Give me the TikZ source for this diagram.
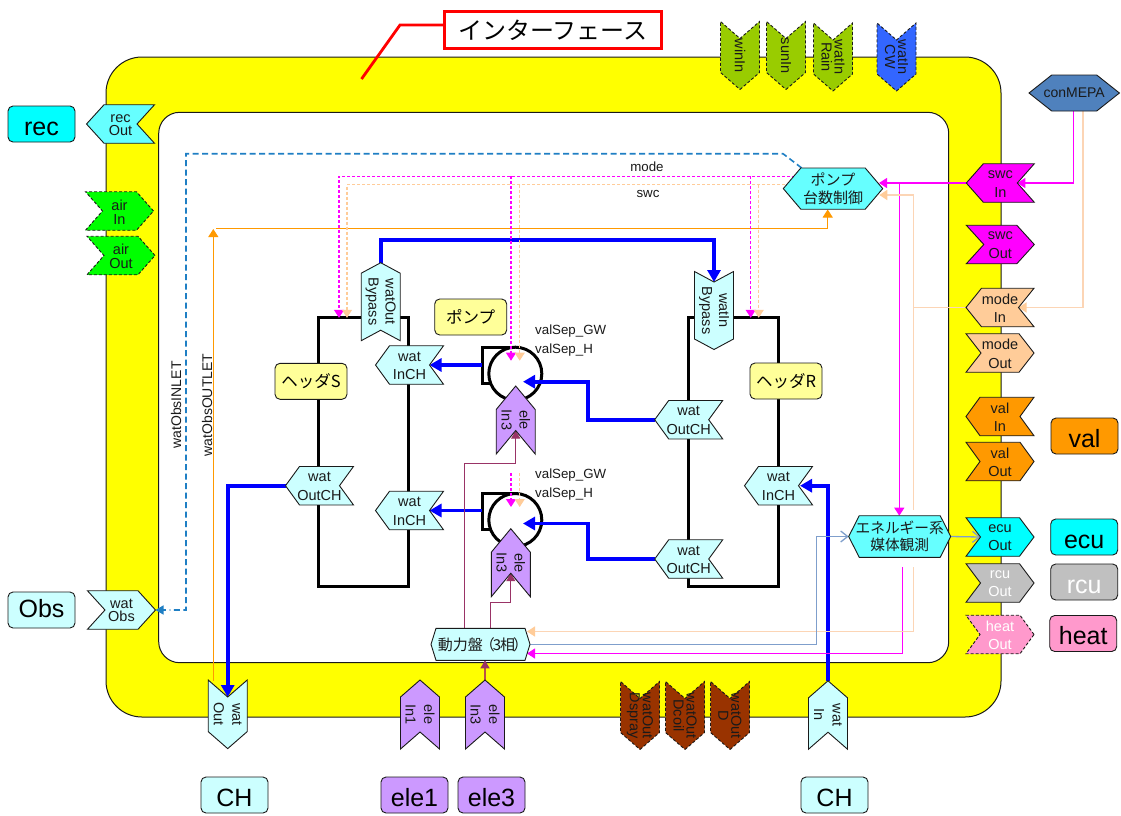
\documentclass[tikz,border=0pt]{standalone}
\usepackage{fontspec}
\setmainfont{Liberation Sans}
\newfontfamily\jp{Noto Sans CJK JP}
\usetikzlibrary{arrows.meta,calc}
\definecolor{pale}{HTML}{CCFFFF}
\definecolor{cyn}{HTML}{66FFFF}
\definecolor{aqua}{HTML}{00FFFF}
\definecolor{purp}{HTML}{CC99FF}
\definecolor{oliv}{HTML}{99CC00}
\definecolor{blu}{HTML}{3366FF}
\definecolor{brn}{HTML}{993300}
\definecolor{orng}{HTML}{FF9900}
\definecolor{pch}{HTML}{FFCC99}
\definecolor{pchl}{HTML}{FCD5B5}
\definecolor{gry}{HTML}{C0C0C0}
\definecolor{pnk}{HTML}{FF99CC}
\definecolor{yel}{HTML}{FFFF99}
\definecolor{stl}{HTML}{4F81BD}
\definecolor{stll}{HTML}{7F9FCC}
\definecolor{dashb}{HTML}{1F7FC4}
\definecolor{plum}{HTML}{993366}
\definecolor{ink}{HTML}{1A1A1A}
\definecolor{mgn}{HTML}{FF00FF}
\definecolor{ylw}{HTML}{FFFF00}
\definecolor{rd}{HTML}{FF0000}
\definecolor{grn}{HTML}{00FF00}
\definecolor{bl}{HTML}{0000FF}
\pgfdeclarelayer{under}
\pgfdeclarelayer{conn}
\pgfsetlayers{under,conn,main}
\tikzset{
  flagp/.style={draw=ink,line width=0.9pt,line join=miter},
  dsh/.style={dash pattern=on 3pt off 2pt},
  box/.style={inner sep=0pt,outer sep=0pt},
  ft/.style={align=center,text=ink,font=\fontsize{14.5}{#1}\selectfont},
  ftw/.style={align=center,text=white,font=\fontsize{14.5}{#1}\selectfont},
  lbl/.style={draw=ink,line width=0.9pt,rounded corners=5pt,minimum width=67pt,minimum height=36pt,inner sep=0pt,text height=22pt,text depth=0pt,font=\fontsize{25}{30}\selectfont},
  jlbl/.style={draw=ink,line width=0.9pt,rounded corners=5pt,fill=yel,minimum width=72pt,minimum height=36pt,inner sep=0pt,font=\jp\fontsize{16.5}{20}\selectfont},
  free/.style={inner sep=0pt,text=ink,font=\fontsize{13.3}{16}\selectfont},
  freev/.style={inner sep=0pt,text=ink,font=\fontsize{14}{16}\selectfont},
  thk/.style={draw=bl,line width=3.6pt,line join=miter,-{Triangle[length=12pt,width=13pt]}},
  tp/.style={-{Triangle[length=8pt,width=10pt]}},
  mgs/.style={draw=mgn,line width=1.2pt,tp},
  mgd/.style={draw=mgn,line width=1.25pt,dsh,tp},
  pkd/.style={draw=pch,line width=1.25pt,dsh,tp},
  pks/.style={draw=pchl,line width=1.5pt},
  pka/.style={draw=pchl,line width=1.5pt,-{Triangle[length=8pt,width=10pt,color=pch]}},
  orga/.style={draw=orng,line width=1pt,tp},
  plm/.style={draw=plum,line width=1pt},
  stb/.style={draw=stll,line width=1.3pt,-{Straight Barb[length=7pt,width=11pt]}},
  frameb/.style={draw=black,line width=3pt,line join=miter}
}
% horizontal flags: name, cx, cy, depth, shape style, text style, text
\newcommand{\hflagL}[7]{%
  \begin{scope}[shift={(#2,#3)}]
  \draw[flagp,#5] (-34,0) -- (-34+#4,-19.25) -- (34,-19.25) -- (34-#4,0) -- (34,19.25) -- (-34+#4,19.25) -- cycle;
  \coordinate (#1-tip) at (-34,0); \coordinate (#1-notch) at (34-#4,0);
  \end{scope}
  \node[box,#6] (#1) at (#2,#3+0.8) {#7};}
\newcommand{\hflagR}[7]{%
  \begin{scope}[shift={(#2,#3)}]
  \draw[flagp,#5] (34,0) -- (34-#4,-19.25) -- (-34,-19.25) -- (-34+#4,0) -- (-34,19.25) -- (34-#4,19.25) -- cycle;
  \coordinate (#1-tip) at (34,0); \coordinate (#1-notch) at (-34+#4,0);
  \end{scope}
  \node[box,#6] (#1) at (#2,#3+0.8) {#7};}
% vertical flags: name, cx, cy, half length, depth, shape style, text style, text
\newcommand{\vflagU}[8]{%
  \begin{scope}[shift={(#2,#3)}]
  \draw[flagp,#6] (0,-#4) -- (19.5,-#4+#5) -- (19.5,#4) -- (0,#4-#5) -- (-19.5,#4) -- (-19.5,-#4+#5) -- cycle;
  \coordinate (#1-tip) at (0,-#4); \coordinate (#1-notch) at (0,#4-#5);
  \end{scope}
  \node[box,rotate=-90,#7] (#1) at (#2,#3) {#8};}
\newcommand{\vflagD}[8]{%
  \begin{scope}[shift={(#2,#3)}]
  \draw[flagp,#6] (0,#4) -- (19.5,#4-#5) -- (19.5,-#4) -- (0,-#4+#5) -- (-19.5,-#4) -- (-19.5,#4-#5) -- cycle;
  \coordinate (#1-tip) at (0,#4); \coordinate (#1-notch) at (0,-#4+#5);
  \end{scope}
  \node[box,rotate=-90,#7] (#1) at (#2,#3) {#8};}
% hexagon: name, cx, cy, half width, half height, shoulder, shape style, font, text
\newcommand{\hexa}[9]{%
  \begin{scope}[shift={(#2,#3)}]
  \draw[flagp,#7] (-#4,0) -- (-#4+#6,-#5) -- (#4-#6,-#5) -- (#4,0) -- (#4-#6,#5) -- (-#4+#6,#5) -- cycle;
  \end{scope}
  \node[box,minimum width=2*#4 pt,minimum height=2*#5 pt,align=center,text=ink,font=#8] (#1) at (#2,#3) {#9};}
\begin{document}
\begin{tikzpicture}[x=1pt,y=-1pt]
\useasboundingbox (0,0) rectangle (1121,815);
\begin{pgfonlayer}{under}
  \fill[white] (0,0) rectangle (1121,815);
  \draw[fill=ylw,draw=ink,line width=1pt,rounded corners=36pt] (106,57) rectangle (1001,717);
  \draw[fill=white,draw=ink,line width=1pt,rounded corners=21pt] (158.7,112.3) rectangle (948.7,662.7);
  \draw[frameb] (318.7,317.3) rectangle (408.7,586);
  \draw[frameb] (688.3,317) rectangle (778.3,586);
  % pumps
  \draw[frameb] (518,347.5) -- (482,347.5) -- (482,383) -- (490,383);
  \draw[frameb] (518,493) -- (482,493) -- (482,529) -- (490,529);
  \node[circle,draw=black,line width=3pt,fill=white,minimum size=53pt,inner sep=0pt,outer sep=0pt] (pumpU) at (515.3,373.7) {};
  \node[circle,draw=black,line width=3pt,fill=white,minimum size=53pt,inner sep=0pt,outer sep=0pt] (pumpL) at (515.3,520) {};
\end{pgfonlayer}

% title
\node[draw=rd,line width=2.6pt,fill=white,minimum width=217pt,minimum height=37pt,inner sep=0pt,font=\jp\fontsize{24}{28}\selectfont] (title) at (553,30) {インターフェース};

% stand-alone labels
\node[lbl,fill=aqua] (Lrec) at (41.5,124) {rec};
\node[lbl,fill=pale,text height=15pt] (Lobs) at (41.5,610) {Obs};
\node[lbl,fill=pale] (Lch1) at (234.5,795) {CH};
\node[lbl,fill=purp] (Lele1) at (414.5,795) {ele1};
\node[lbl,fill=purp] (Lele3) at (491.5,795) {ele3};
\node[lbl,fill=pale] (Lch2) at (834.5,795) {CH};
\node[lbl,fill=orng] (Lval) at (1084.5,436) {val};
\node[lbl,fill=aqua] (Lecu) at (1084.2,537) {ecu};
\node[lbl,fill=gry,text=white] (Lrcu) at (1084.2,582) {rcu};
\node[lbl,fill=pnk] (Lheat) at (1083.2,633.5) {heat};
\node[jlbl] (Lhs) at (311,381.3) {ヘッダS};
\node[jlbl] (Lhr) at (786,381) {ヘッダR};
\node[jlbl] (Lpu) at (470.7,317) {ポンプ};

% left flags
\hflagL{rO}{120.5}{124}{17.5}{fill=cyn}{ft=13}{rec\\Out}
\hflagR{aI}{119.5}{211}{17}{fill=grn,dsh}{ft=14}{air\\In}
\hflagR{aO}{121}{255.5}{17}{fill=grn,dsh}{ft=14}{air\\Out}
\hflagR{wObs}{121.5}{610}{17.5}{fill=pale}{ft=13}{wat\\Obs}

% right flags
\hflagL{sI}{1000.3}{183}{17}{fill=mgn}{ft=19}{swc\\In}
\hflagR{sO}{1000.3}{244.5}{17.5}{fill=mgn}{ft=19}{swc\\Out}
\hflagL{mI}{1000}{307.5}{15.5}{fill=pch}{ft=18.5}{mode\\In}
\hflagR{mO}{1000}{353}{15}{fill=pch}{ft=18.5}{mode\\Out}
\hflagL{vI}{1000}{416.5}{14}{fill=orng}{ft=18.5}{val\\In}
\hflagR{vO}{1000}{461.5}{14}{fill=orng}{ft=18.5}{val\\Out}
\hflagR{eO}{1000}{537}{14.5}{fill=aqua}{ft=18.5}{ecu\\Out}
\hflagR{rcO}{1000}{583}{14.5}{fill=gry}{ftw=18}{rcu\\Out}
\hflagR{hO}{1000}{634.5}{14}{fill=pnk,dsh}{ftw=18.5}{heat\\Out}

% inner horizontal flags
\hflagL{wIu}{409.5}{365}{14}{fill=pale}{ft=18.5}{wat\\InCH}
\hflagL{wIl}{409.5}{510.5}{14}{fill=pale}{ft=18.5}{wat\\InCH}
\hflagL{wOs}{319.5}{485.7}{14}{fill=pale}{ft=18.5}{wat\\OutCH}
\hflagL{wOu}{688.7}{419.7}{14}{fill=pale}{ft=18.5}{wat\\OutCH}
\hflagL{wOl}{688.7}{559}{14}{fill=pale}{ft=18.5}{wat\\OutCH}
\hflagL{wIr}{778.5}{485.7}{14}{fill=pale}{ft=18.5}{wat\\InCH}

% top flags
\vflagD{wn}{740}{55.5}{34}{17}{fill=oliv,dsh}{ft=13}{winIn}
\vflagD{sn}{786}{55.5}{34}{17}{fill=oliv,dsh}{ft=13}{sunIn}
\vflagD{wR}{833}{57}{34}{17}{fill=oliv,dsh}{ft=13}{watIn\\Rain}
\vflagD{wC}{896.5}{57}{34}{17}{fill=blu,dsh}{ft=13}{watIn\\CW}

% bottom flags
\vflagD{wOt}{227.7}{714.3}{34.3}{17}{fill=pale}{ft=18.5}{wat\\Out}
\vflagU{e1}{420}{714.5}{34.5}{17}{fill=purp}{ft=18.5}{ele\\In1}
\vflagU{e3}{485}{714.5}{34.5}{17}{fill=purp}{ft=18.5}{ele\\In3}
\vflagD{wDs}{640}{715.5}{34}{17}{fill=brn,dsh}{ft=13}{watOut\\Dspray}
\vflagD{wDc}{685}{715.5}{34}{17}{fill=brn,dsh}{ft=13}{watOut\\Dcoil}
\vflagD{wD}{730}{715.5}{34}{17}{fill=brn,dsh}{ft=13}{watOut\\D}
\vflagU{wIn}{828}{715}{34.2}{17}{fill=pale}{ft=18.5}{wat\\In}

% inner vertical flags
\vflagU{wOB}{380.7}{301.7}{39}{10.5}{fill=pale}{ft=17}{watOut\\Bypass}
\vflagD{wIB}{714}{310.5}{39}{10.5}{fill=pale}{ft=17}{watIn\\Bypass}
\vflagU{eU}{515.7}{420}{34}{23.5}{fill=purp}{ft=18}{ele\\In3}
\vflagU{eL}{510.8}{562.7}{34}{23.5}{fill=purp}{ft=18}{ele\\In3}

% hexagons
\hexa{con}{1074.2}{93}{45.2}{18}{22.7}{fill=stl}{\fontsize{14}{16}\selectfont}{conMEPA}
\hexa{pc}{833}{188.6}{49.7}{20.6}{17.5}{fill=cyn}{\jp\fontsize{15}{18.5}\selectfont}{ポンプ\\台数制御}
\hexa{eh}{899.7}{536.5}{51}{20.8}{10.5}{fill=cyn}{\jp\fontsize{14.7}{17.5}\selectfont}{エネルギー系\\媒体観測}
\hexa{pan}{480.5}{644.3}{49.5}{16}{5}{fill=pale}{\jp\fontsize{15}{17}\selectfont}{動力盤\kern-3pt（\kern-2pt 3\kern-1pt 相\kern-2pt）\kern-5pt}

% free texts
\node[free] (tMode) at (647,167) {mode};
\node[free] (tSwc) at (648,194) {swc};
\node[freev,rotate=90] (tIn) at (176,405) {watObsINLET};
\node[freev,rotate=90] (tOut) at (207,405) {watObsOUTLET};
\node[free,anchor=west] (tV1) at (535,331) {valSep\_GW};
\node[free,anchor=west] (tV2) at (535,350) {valSep\_H};
\node[free,anchor=west] (tV3) at (535,475) {valSep\_GW};
\node[free,anchor=west] (tV4) at (535,494) {valSep\_H};

% named routing points
\coordinate (ttlA) at (444,25); \coordinate (ttlB) at (400,25); \coordinate (ttlC) at (361.5,79);
\coordinate (busT) at (550,240);
\coordinate (bU) at (588,400); \coordinate (pUin) at (523,381.7); \coordinate (pUout) at (482,365);
\coordinate (bL) at (588,540); \coordinate (pLin) at (523,523.5); \coordinate (pLout) at (482,510.5);
\coordinate (wIrN) at (800,485.7);
\coordinate (mdA) at (186,400); \coordinate (mdB) at (783,153.7); \coordinate (mdC) at (801.7,168);
\coordinate (oA) at (213.3,680.5); \coordinate (oB) at (213.3,229); \coordinate (oC) at (216,228.7); \coordinate (oD) at (827.7,209.5);
\coordinate (mgS) at (800,176.2); \coordinate (mgSe) at (339,317.8);
\coordinate (mgR) at (750.7,176.2); \coordinate (mgRe) at (750.7,317.8);
\coordinate (mgP) at (511,176.2); \coordinate (mgPe) at (511,360.7);
\coordinate (mgQ) at (511,473); \coordinate (mgQe) at (511,507);
\coordinate (pkS) at (800,184.6); \coordinate (pkSe) at (347,317.8);
\coordinate (pkR) at (758.7,184.6); \coordinate (pkRe) at (758.7,317.8);
\coordinate (pkP) at (519.7,184.6); \coordinate (pkPe) at (519.7,360.7);
\coordinate (pkQ) at (519.7,473); \coordinate (pkQe) at (519.7,507);
\coordinate (pcIn1) at (879,183); \coordinate (pcIn2) at (879.3,195);
\coordinate (mgV) at (899.3,183); \coordinate (mgVe) at (899.3,515.7);
\coordinate (conA) at (1073.7,111);
\coordinate (conB) at (1083,111);
\coordinate (pkJ) at (913.3,250); \coordinate (pkB) at (913.3,307.5); \coordinate (pkC) at (913.3,510);
\coordinate (pkD) at (913.3,567); \coordinate (panIn1) at (527,631.5);
\coordinate (mgD) at (902.3,567); \coordinate (panIn2) at (527,653.5);
\coordinate (bJ) at (816.7,600);
\coordinate (p1) at (464.3,628.3); \coordinate (b1) at (490,463.3);
\coordinate (p2) at (490.3,628.3); \coordinate (b2) at (500,602);

\begin{pgfonlayer}{conn}
  \draw[rd,line width=2.8pt,line join=miter] (ttlA) -- (ttlB) -- (ttlC);
  % thick water lines
  \draw[thk] (wOB-tip) |- (busT) -| (wIB-notch);
  \draw[thk] (wOu-tip) -| (bU) |- (pUin);
  \draw[thk] (wOl-tip) -| (bL) |- (pLin);
  \draw[thk] (pUout) -- (wIu-notch);
  \draw[thk] (pLout) -- (wIl-notch);
  \draw[thk] (wOs-tip) -| (wOt-notch);
  \draw[thk] (wIn-tip) |- (wIrN);
  % orange
  \draw[orga] (oA) -- (oB);
  \draw[orga] (oC) -| (oD);
  % observation line
  \draw[draw=dashb,line width=1.6pt,dash pattern=on 6pt off 3.5pt] (mdC) -- (mdB) -- (mdB -| mdA) -- (mdA |- wObs-tip) -- ($(wObs-tip)+(14,0)$);
  \draw[draw=dashb,line width=1.6pt,{Triangle[length=8pt,width=9pt]}-] (wObs-tip) -- ($(wObs-tip)+(10,0)$);
  % dashed magenta
  \draw[mgd] (mgS) -| (mgSe);
  \draw[mgd] (mgR) -- (mgRe);
  \draw[mgd] (mgP) -- (mgPe);
  \draw[mgd] (mgQ) -- (mgQe);
  % dashed peach
  \draw[pkd] (pkS) -| (pkSe);
  \draw[pkd] (pkR) -- (pkRe);
  \draw[pkd] (pkP) -- (pkPe);
  \draw[pkd] (pkQ) -- (pkQe);
  % solid magenta
  \draw[mgs] (sI-tip) -- (pcIn1);
  \draw[mgs] (mgV) -- (mgVe);
  \draw[mgs] (conA) |- (sI-notch);
  \draw[mgs] (mgD) |- (panIn2);
  % solid peach
  \draw[pka] (conB) |- (mI-notch);
  \draw[pka] (mI-tip) -| (pkJ) |- (pcIn2);
  \draw[pks] (pkB) -- (pkC);
  \draw[pka] (pkD) |- (panIn1);
  % blue-grey
  \draw[stb] (pan.east) -| (bJ) |- (eh.west);
  \draw[stb] (eh.east) -- (eO-notch);
  % plum
  \draw[plm,-{Triangle[length=8pt,width=9pt]}] (p1) |- (b1) -| (eU-notch);
  \draw[plm,-{Triangle[length=8pt,width=9pt]}] (p2) |- (b2) -| (eL-notch);
  \draw[draw=plum!70!orng,line width=1.4pt,-{Triangle[length=8pt,width=9pt,color=plum]}] (e3-tip) -- (e3-tip |- pan.south);
\end{pgfonlayer}
\end{tikzpicture}
\end{document}
